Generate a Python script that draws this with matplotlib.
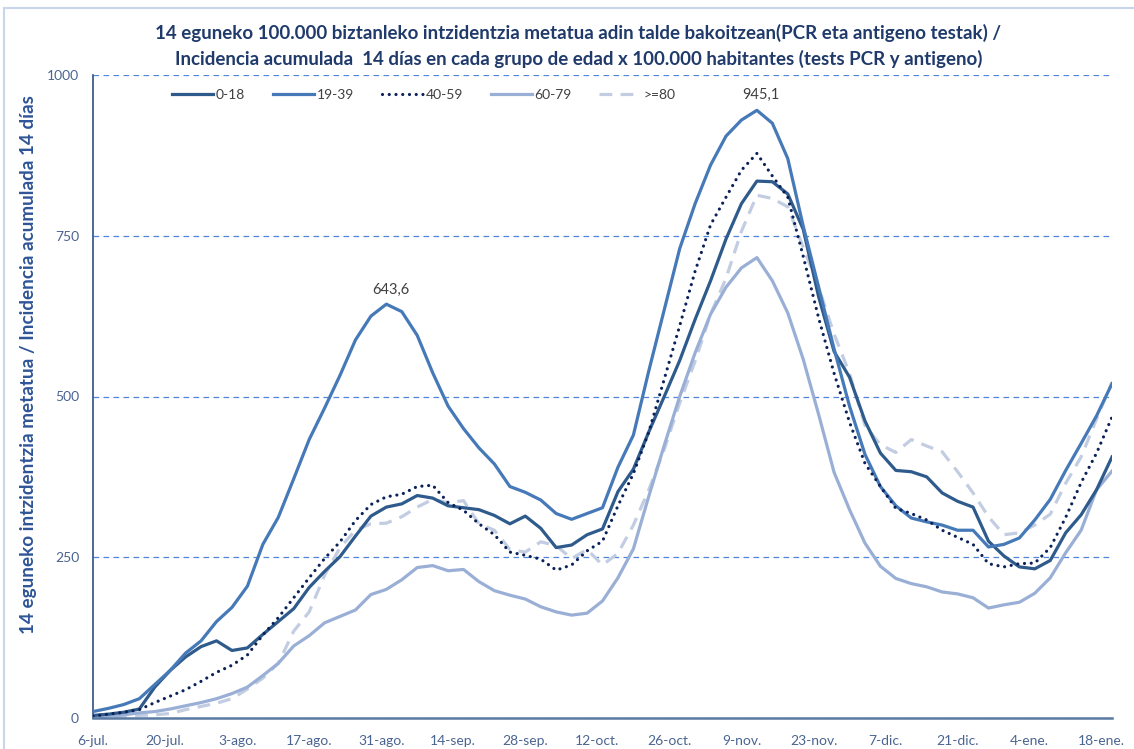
import pandas as pd
import numpy as np
import matplotlib
matplotlib.use("Agg")
import matplotlib.pyplot as plt
from matplotlib.patches import Rectangle

plt.rcParams['font.family'] = ['Lato', 'DejaVu Sans']

# datos cada 3 dias, 6-jul-2020 .. 20-ene-2021
fechas = pd.date_range('2020-07-06', periods=67, freq='3D')

edad_0_18 = [4, 6, 9, 14, 48, 74, 95, 111, 120, 105, 109, 130, 150, 170, 203, 228, 251,
             283, 314, 328, 333, 346, 342, 330, 327, 324, 315, 302, 314, 295, 265, 269,
             285, 294, 352, 387, 445, 500, 556, 620, 680, 745, 800, 835, 834, 815, 760,
             655, 570, 530, 462, 412, 385, 383, 375, 350, 337, 328, 275, 252, 235, 232,
             245, 288, 316, 355, 406]
edad_19_39 = [10, 15, 21, 30, 52, 74, 101, 120, 150, 172, 205, 270, 312, 372, 433, 482,
              533, 588, 625, 643.6, 632, 595, 537, 485, 450, 420, 395, 360, 351, 339, 318,
              309, 318, 327, 390, 440, 540, 635, 730, 800, 860, 905, 930, 945.1, 925, 870,
              765, 670, 574, 485, 410, 360, 330, 311, 305, 300, 292, 292, 266, 270, 280,
              308, 340, 385, 427, 470, 520]
edad_40_59 = [3, 6, 9, 13, 24, 34, 44, 57, 71, 82, 98, 129, 156, 187, 218, 248, 274, 307,
              332, 344, 348, 360, 362, 335, 323, 302, 285, 258, 253, 247, 230, 238, 260,
              275, 330, 380, 445, 527, 610, 695, 767, 810, 852, 878, 843, 810, 718, 622,
              536, 460, 396, 360, 326, 318, 308, 292, 281, 270, 240, 235, 240, 241, 265,
              312, 366, 412, 468]
edad_60_79 = [2, 3, 5, 8, 10, 14, 19, 24, 30, 38, 48, 66, 85, 112, 128, 148, 158, 168,
              192, 200, 215, 234, 237, 229, 231, 212, 198, 191, 185, 173, 165, 160, 163,
              182, 218, 263, 345, 424, 500, 568, 628, 670, 700, 716, 680, 630, 558, 472,
              382, 324, 272, 236, 217, 209, 204, 196, 193, 187, 171, 176, 180, 194, 218,
              257, 292, 355, 384]
edad_80 = [1, 2, 3, 4, 5, 7, 13, 18, 23, 30, 45, 62, 85, 135, 165, 222, 265, 292, 302,
           303, 313, 328, 340, 335, 338, 302, 292, 262, 258, 274, 268, 248, 262, 238, 256,
           300, 355, 418, 490, 555, 628, 684, 757, 813, 808, 795, 732, 670, 597, 536, 455,
           425, 413, 433, 423, 414, 383, 350, 313, 285, 288, 300, 317, 365, 406, 465, 522]

etiquetas = ['0-18', '19-39', '40-59', '60-79', '>=80']
fechas_ticks = pd.date_range('2020-07-06', periods=15, freq='14D')
etiquetas_x = ['6-jul.', '20-jul.', '3-ago.', '17-ago.', '31-ago.', '14-sep.', '28-sep.',
               '12-oct.', '26-oct.', '9-nov.', '23-nov.', '7-dic.', '21-dic.', '4-ene.',
               '18-ene.']

fig = plt.figure(figsize=(11.34, 7.49), dpi=100)
ax = fig.add_axes([93 / 1134, 1 - 718 / 749, 1019 / 1134, 643 / 749])

lw = 2.3
ax.plot(fechas, edad_0_18, color='#2F5B8C', lw=lw, label=etiquetas[0], zorder=5)
ax.plot(fechas, edad_19_39, color='#4679B8', lw=lw, label=etiquetas[1], zorder=6)
ax.plot(fechas, edad_40_59, color='#0B2259', lw=lw, linestyle=(0, (0.01, 2.1)),
        dash_capstyle='round', label=etiquetas[2], zorder=7)
ax.plot(fechas, edad_60_79, color='#9AAFD6', lw=lw, label=etiquetas[3], zorder=4)
ax.plot(fechas, edad_80, color='#C3CDE2', lw=lw, linestyle=(0, (4, 2.6)),
        label=etiquetas[4], zorder=3)

# etiquetas de los maximos de 19-39 (primera ola y segunda ola)
i1 = int(np.argmax(edad_19_39[:30]))
i2 = int(np.argmax(edad_19_39))
for i, dy in [(i1, 5), (i2, 6)]:
    ax.annotate(f"{edad_19_39[i]:.1f}".replace('.', ','), (fechas[i], edad_19_39[i]),
                xytext=(3, dy), textcoords='offset points', ha='center', va='bottom',
                fontsize=10.5, color='#404040')

ax.set_xlim(pd.Timestamp('2020-07-06'), pd.Timestamp('2021-01-20'))
ax.set_ylim(0, 1000)
ax.set_yticks([0, 250, 500, 750, 1000])
ax.set_xticks(fechas_ticks)
ax.set_xticklabels(etiquetas_x)
ax.tick_params(axis='both', length=0, labelsize=10, labelcolor='#4A6491')
ax.tick_params(axis='x', pad=12)
ax.tick_params(axis='y', pad=10)

ax.grid(axis='y', color='#4F86D9', lw=0.9, linestyle=(0, (4.5, 3.5)))
ax.set_axisbelow(True)
for s in ['top', 'right']:
    ax.spines[s].set_visible(False)
ax.spines['left'].set_color('#2F4F80')
ax.spines['left'].set_linewidth(1.2)
ax.spines['bottom'].set_color('#5A7AA3')
ax.spines['bottom'].set_linewidth(1.8)
ax.spines['bottom'].set_zorder(8)

ax.set_ylabel('14 eguneko intzidentzia metatua / Incidencia acumulada 14 días',
              fontsize=13.6, fontweight='bold', color='#2F5597')
ax.yaxis.set_label_coords(-0.055, 0.55)

fig.text(0.51, 1 - 33 / 749,
         '14 eguneko 100.000 biztanleko intzidentzia metatua adin talde bakoitzean(PCR eta antigeno testak) /',
         ha='center', va='center', fontsize=13.5, fontweight='bold', color='#203B6B')
fig.text(0.51, 1 - 59 / 749,
         'Incidencia acumulada  14 días en cada grupo de edad x 100.000 habitantes (tests PCR y antigeno)',
         ha='center', va='center', fontsize=13.5, fontweight='bold', color='#203B6B')

ax.legend(loc='center left', bbox_to_anchor=(0.0776, 0.969), ncol=5, frameon=False,
          fontsize=10, handlelength=2.95, handletextpad=0.2, columnspacing=2.0,
          borderpad=0, borderaxespad=0, labelcolor='#404040')

fig.patches.append(Rectangle((4 / 1134, -0.05), 1.2, 1.05 - 8 / 749, transform=fig.transFigure,
                             fill=False, ec='#C9D5E9', lw=1.5))

fig.savefig('out.png', dpi=100)
